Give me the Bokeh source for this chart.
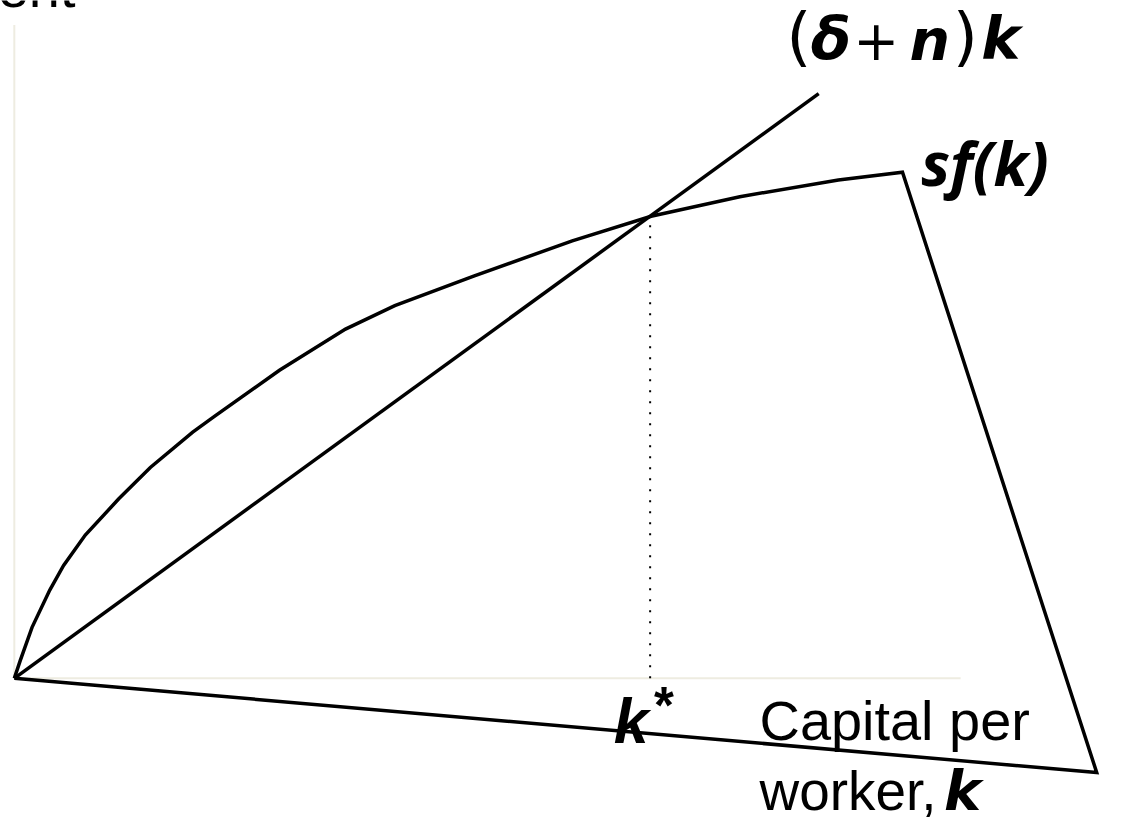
from bokeh.plotting import figure
from bokeh.models import Range1d, Label
from bokeh.embed import file_html
from bokeh.resources import INLINE

# ---- data (chart units: origin at the corner of the axes) ----
sf_k = [0, 0.6, 1.8, 3.6, 5.0, 7.2, 10.6, 13.8, 18.1, 20.3, 26.9, 33.6, 38.6, 46.6, 56.6, 64.6, 73.6, 83.6, 90.1]
sf_y = [0, 1.8, 5.2, 9.0, 11.5, 14.6, 18.3, 21.5, 25.1, 26.7, 31.4, 35.6, 38.0, 41.0, 44.6, 47.1, 49.1, 50.8, 51.6]
# the drawn shape of sf(k) closes back to the origin through this corner
shape_close_k = [109.8, 0]
shape_close_y = [-9.6, 0]
breakeven_k = [0, 81.6]
breakeven_y = [0, 59.6]
k_star = 64.5
k_star_y = 47.0
k_axis_end = 96.0
y_axis_end = 66.6

# ---- figure: whole reference frame mapped onto the plot ----
W, H = 1109, 823
p = figure(width=W, height=H,
           x_range=Range1d(-1.4, 111.1), y_range=Range1d(-14.8, 69.1),
           output_backend="svg", toolbar_location=None, min_border=0,
           x_axis_type=None, y_axis_type=None)
p.grid.visible = False
p.outline_line_color = None
p.background_fill_color = "white"
p.border_fill_color = "white"

axis_col = "#EEECE1"
p.line([0, 0], [0, y_axis_end], line_color=axis_col, line_width=2)
p.line([0, k_axis_end], [0, 0], line_color=axis_col, line_width=2)

p.line([k_star, k_star], [0, k_star_y], line_color="black", line_width=2, line_dash="2 9")

p.line(sf_k + shape_close_k, sf_y + shape_close_y, line_color="black",
       line_width=3.5, line_join="miter")
p.line(breakeven_k, breakeven_y, line_color="black", line_width=3.5)

SC = H / 839.0
BASE = 0.40  # observed baseline drop of Label text, in em


def lab(text, px, py, size, font="Liberation Sans", style="normal", align="left"):
    x = (px - 14) / 10.0
    y = (691 - (py - BASE * size)) / 10.0
    p.add_layout(Label(x=x, y=y, text=text, text_font=font,
                       text_font_size=f"{size * SC:.1f}px",
                       text_font_style=style, text_align=align,
                       text_baseline="alphabetic", text_color="black"))


lab("ent", 76, 10, 57, align="right")

# (δ+n)k
lab("(", 797, 63, 66, font="DejaVu Sans")
lab("δ", 822, 63, 60, font="DejaVu Sans", style="bold italic")
lab("+", 865, 63, 56, font="DejaVu Sans")
lab("n", 922, 63, 58, font="DejaVu Sans", style="bold italic")
lab(")", 966, 63, 66, font="DejaVu Sans")
lab("k", 995, 63, 60, font="DejaVu Sans", style="bold italic")

lab("sf(k)", 934, 190, 62, font="Noto Sans", style="bold italic")

lab("k", 622, 760, 64, style="bold italic")
lab("*", 663, 739, 52, style="bold")

lab("Capital per", 770, 757, 57)
lab("worker,", 770, 828, 56)
lab("k", 957, 828, 57, font="DejaVu Sans", style="bold italic")

open("out.html", "w").write(file_html(p, INLINE))
